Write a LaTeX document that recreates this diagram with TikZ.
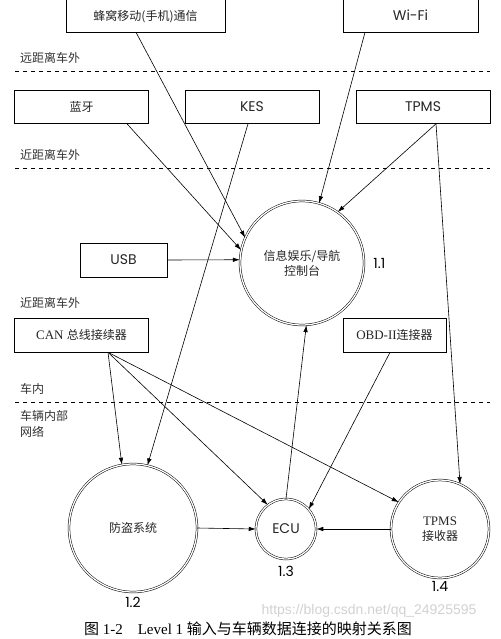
\documentclass[tikz,border=0pt]{standalone}
\usepackage{fontspec}
\setmainfont{Liberation Serif}
\newfontfamily\cjk{Noto Sans CJK SC}
\newfontfamily\geo{Poppins}
\newfontfamily\web{Liberation Sans}
\usetikzlibrary{positioning}
\usetikzlibrary{arrows.meta}
\usetikzlibrary{calc}

\begin{document}
\begin{tikzpicture}[x=1pt, y=-1pt,
  box/.style={draw, line width=0.6pt, minimum width=134pt, minimum height=33pt, inner sep=0pt, text=black!85, font=\fontsize{12}{14}\selectfont},
  topbox/.style={box, minimum height=48pt, text height=26pt, text depth=1pt},
  ring/.style={circle, draw, line width=0.5pt, double, double distance=1.3pt, inner sep=0pt, align=center, text=black!85, font=\cjk\fontsize{12}{15}\selectfont},
  zone/.style={anchor=west, align=left, inner sep=0pt, text=black!80, font=\cjk\fontsize{12}{16}\selectfont},
  sep/.style={dash pattern=on 4pt off 4pt, line width=0.7pt},
  link/.style={line width=0.6pt, -{Latex[length=7pt,width=4.5pt]}},
  num/.style={inner sep=0pt, font=\geo\fontsize{14}{16}\selectfont}]

\useasboundingbox (0,0) rectangle (500,639);

% zones
\node[zone] (far) at (20,58) {远距离车外};
\draw[sep] (15,71) -- (490,71);
\node[zone] (near) at (20,155) {近距离车外};
\draw[sep] (15,168) -- (490,168);
\node[zone] (near2) at (20,303) {近距离车外};
\node[zone] (inside) at (20,389) {车内};
\draw[sep] (15,402) -- (490,402);
\node[zone, anchor=north west] (net) at (20,410) {车辆内部\\网络};

% inputs
\node[topbox, minimum width=159pt] (cell) at (145.5,8) {\cjk 蜂窝移动(手机)通信};
\node[topbox, minimum width=135pt] (wifi) at (410.5,8) {\geo\fontsize{14}{16}\selectfont Wi-Fi};
\node[box] (bt) at (81.5,107) {\cjk 蓝牙};
\node[box] (kes) at (252,107) {\geo\fontsize{14}{16}\selectfont KES};
\node[box] (tpms) at (423,107) {\geo\fontsize{14}{16}\selectfont TPMS};
\node[box, minimum width=87pt, minimum height=34pt] (usb) at (123.5,260) {\geo\fontsize{14}{16}\selectfont USB};
\node[box, minimum height=34pt] (can) at (81.5,335) {\fontsize{13}{15}\selectfont CAN {\cjk\fontsize{12}{14}\selectfont 总线接续器}};
\node[box, minimum width=103pt, minimum height=34pt] (obd) at (394.5,335) {\fontsize{13}{15}\selectfont OBD-II{\cjk\fontsize{12}{14}\selectfont 连接器}};

% processes
\node[ring, minimum size=124pt] (info) at (302,263) {信息娱乐/导航\\控制台};
\node[ring, minimum size=128pt] (theft) at (133,528) {防盗系统};
\node[ring, minimum size=60pt] (ecu) at (286,529) {\geo\fontsize{14}{16}\selectfont ECU};
\node[ring, minimum size=98pt] (recv) at (440,529) {{\rmfamily\fontsize{13}{15}\selectfont TPMS}\\接收器};

\node[num, right=9pt of info] (n11) {1.1};
\node[num, below=5pt of theft] (n12) {1.2};
\node[num, below=7pt of ecu] (n13) {1.3};
\node[num, below=3pt of recv] (n14) {1.4};

% flows
\draw[link] ([xshift=-9.5pt]cell.south) -- (info.156);
\draw[link] ([xshift=-45.5pt]wifi.south) -- (info.74);
\draw[link] ([xshift=45.5pt]bt.south) -- (info.168);
\draw[link] ([xshift=-4pt]kes.south) -- (theft.77);
\draw[link] ([xshift=13pt]tpms.south) -- (info.55);
\draw[link] ([xshift=13pt]tpms.south) -- (recv.66);
\draw[link] (usb.east) -- (info.177);
\draw[link] ([xshift=26.5pt]can.south) -- (theft.100);
\draw[link] ([xshift=26.5pt]can.south) -- (ecu.127);
\draw[link] ([xshift=26.5pt]can.south) -- (recv.147);
\draw[link] ([xshift=-4.5pt]obd.south) -- (ecu.41);
\draw[link] (ecu.north) -- (info.-86);
\draw[link] (theft.east) -- (ecu.west);
\draw[link] (recv.west) -- (ecu.east);

% caption
\node[text=black!18, font=\web\fontsize{14}{16}\selectfont] (mark) at (369,611) {https://blog.csdn.net/qq\_24925595};
\node[font=\fontsize{15}{17}\selectfont] (cap) at (248,629) {{\cjk 图} 1-2\quad Level 1 {\cjk 输入与车辆数据连接的映射关系图}};

\end{tikzpicture}
\end{document}
